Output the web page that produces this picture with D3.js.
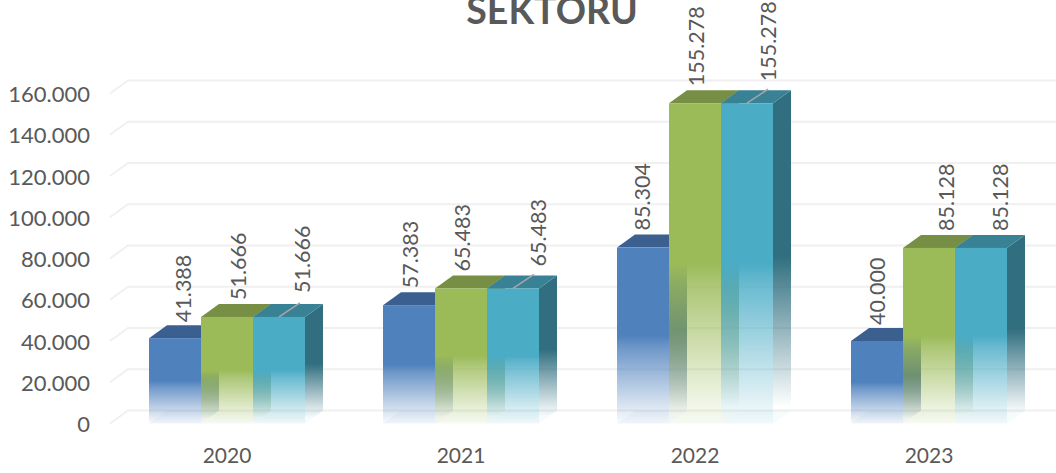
<!DOCTYPE html>
<html>
<head>
<meta charset="utf-8">
<script src="https://cdn.jsdelivr.net/npm/d3@7"></script>
<style>
  html, body { margin: 0; padding: 0; background: #fff; overflow: hidden; }
  text { font-family: Lato, "Open Sans", sans-serif; fill: #595959; }
</style>
</head>
<body>
<div id="chart"></div>
<script>
const years = ["2020", "2021", "2022", "2023"]
const seriesA = [41388, 57383, 85304, 40000]
const seriesB = [51666, 65483, 155278, 85128]
const seriesC = [51666, 65483, 155278, 85128]
const yTicks = [0, 20000, 40000, 60000, 80000, 100000, 120000, 140000, 160000]
const titleText = "SEKTORU"

// front, top and side colours per series
const colors = [
  {name: "a", front: "#4f81bd", top: "#3b6090", side: "#3b6090"},
  {name: "b", front: "#9bbb59", top: "#778f44", side: "#778f44"},
  {name: "c", front: "#4bacc6", top: "#398296", side: "#316f80"}
]
const allSeries = [seriesA, seriesB, seriesC]

// hand placed data labels: sideways shift from bar centre and lift above the bar
const labelShift = [[8, 11, 23], [1, 1, 25], [-1, 1, 21], [0, 17, 19]]
const labelLift = [[16, 17, 24], [17, 17, 22], [17, 17, 22], [16, 17, 17]]
const leaderYears = ["2020", "2021", "2022"]

const width = 1056, height = 473
const depthX = 18, depthY = -13

const svg = d3.select("#chart").append("svg")
  .attr("width", width)
  .attr("height", height)

const x = d3.scaleBand().domain(years).range([110, 1046]).paddingInner(1 / 3).paddingOuter(1 / 6)
const xSeries = d3.scaleBand().domain(d3.range(3)).range([0, x.bandwidth()])
const y = d3.scaleLinear().domain([0, 160000]).range([423.5, 93.5])

const fmt = d3.formatLocale({decimal: ",", thousands: ".", grouping: [3], currency: ["", ""]}).format(",d")

// gradients: solid down to half height, then fading out
const defs = svg.append("defs")
colors.forEach(c => {
  const front = defs.append("linearGradient").attr("id", "front-" + c.name)
    .attr("x1", 0).attr("y1", 0).attr("x2", 0).attr("y2", 1)
  ;[[0, 1], [0.5, 1], [0.57, 0.82], [1, 0.03]].forEach(s => {
    front.append("stop").attr("offset", s[0]).attr("stop-color", c.front).attr("stop-opacity", s[1])
  })
  const side = defs.append("linearGradient").attr("id", "side-" + c.name)
    .attr("x1", 0).attr("y1", 0).attr("x2", 0).attr("y2", 1)
  ;[[0, 1], [0.5, 1], [0.95, 0]].forEach(s => {
    side.append("stop").attr("offset", s[0]).attr("stop-color", c.side).attr("stop-opacity", s[1])
  })
})

// gridlines with the little step on the left wall
svg.append("g").selectAll("path")
  .data(yTicks)
  .join("path")
    .attr("fill", "none")
    .attr("stroke", "#f0f0f0")
    .attr("stroke-width", 2)
    .attr("d", d => `M110,${y(d)}L${110 + depthX},${y(d) + depthY}H${width}`)

// y axis
svg.append("g")
  .attr("transform", "translate(90,1)")
  .call(d3.axisLeft(y).tickValues(yTicks).tickSize(0).tickPadding(0).tickFormat(fmt))
  .call(g => g.select(".domain").remove())
  .call(g => g.selectAll("text").style("font-size", "22px").attr("font-family", null))

// x axis
svg.append("g")
  .attr("transform", "translate(0,448)")
  .call(d3.axisBottom(x).tickSize(0).tickPadding(0))
  .call(g => g.select(".domain").remove())
  .call(g => g.selectAll("text").style("font-size", "21px").attr("font-family", null))

const poly = pts => "M" + pts.map(p => p.join(",")).join("L") + "Z"

const bars = []
years.forEach((year, i) => {
  allSeries.forEach((values, s) => {
    bars.push({year: year, i: i, s: s, value: values[i], c: colors[s],
      x0: x(year) + xSeries(s), x1: x(year) + xSeries(s) + xSeries.bandwidth(),
      top: y(values[i]), base: y(0)})
  })
})

const bar = svg.append("g").selectAll("g")
  .data(bars)
  .join("g")

// floor
bar.append("path")
  .attr("fill", d => d.c.front)
  .attr("fill-opacity", 0.05)
  .attr("d", d => poly([[d.x0, d.base], [d.x1, d.base], [d.x1 + depthX, d.base + depthY], [d.x0 + depthX, d.base + depthY]]))

// right side
bar.append("path")
  .attr("fill", d => `url(#side-${d.c.name})`)
  .attr("d", d => poly([[d.x1, d.top], [d.x1 + depthX, d.top + depthY], [d.x1 + depthX, d.base + depthY], [d.x1, d.base]]))

// top
bar.append("path")
  .attr("fill", d => d.c.top)
  .attr("d", d => poly([[d.x0, d.top], [d.x0 + depthX, d.top + depthY], [d.x1 + depthX, d.top + depthY], [d.x1, d.top]]))

// front
bar.append("rect")
  .attr("x", d => d.x0)
  .attr("y", d => d.top)
  .attr("width", d => d.x1 - d.x0)
  .attr("height", d => d.base - d.top)
  .attr("fill", d => `url(#front-${d.c.name})`)

// leader lines on the third series
svg.append("g").selectAll("line")
  .data(bars.filter(d => d.s == 2 && leaderYears.includes(d.year)))
  .join("line")
    .attr("stroke", "#a6a6a6")
    .attr("stroke-width", 1.5)
    .attr("x1", d => (d.x0 + d.x1) / 2)
    .attr("y1", d => d.top)
    .attr("x2", d => (d.x0 + d.x1) / 2 + 21)
    .attr("y2", d => d.top - 14)

// value labels, turned 90 degrees
svg.append("g").selectAll("text")
  .data(bars)
  .join("text")
    .attr("transform", d => `translate(${(d.x0 + d.x1) / 2 + labelShift[d.i][d.s]},${d.top - labelLift[d.i][d.s]}) rotate(-90)`)
    .attr("dy", "0.35em")
    .style("font-size", "21.5px")
    .text(d => fmt(d.value))

// title, cut by the top of the picture like the original
svg.append("text")
  .attr("x", 552)
  .attr("y", 24)
  .attr("text-anchor", "middle")
  .style("font-size", "37.5px")
  .style("font-weight", "700")
  .text(titleText)
</script>
</body>
</html>
